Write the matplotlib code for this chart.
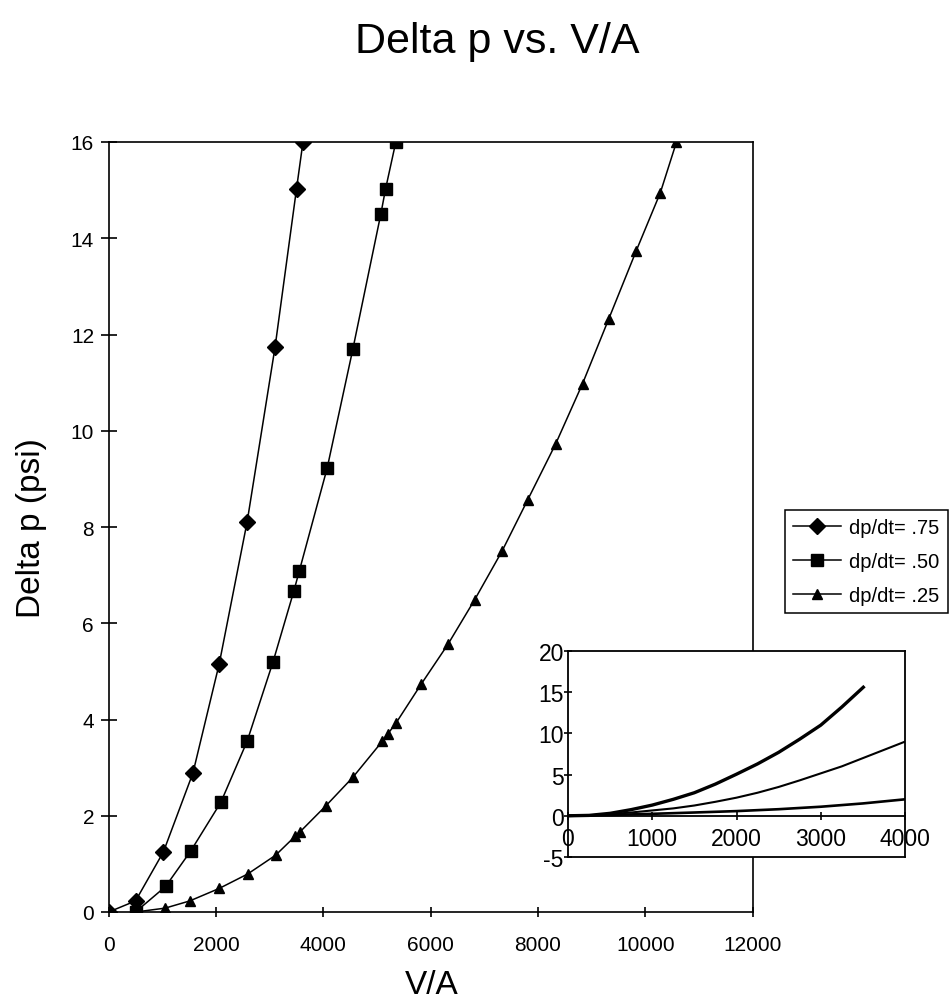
import matplotlib
matplotlib.use("Agg")
import matplotlib.pyplot as plt

# main chart: Delta p (psi) against V/A for three pressure rates
DIAMOND_X = [0, 500, 1020, 1570, 2060, 2580, 3100, 3500, 3620]
DIAMOND_Y = [0, 0.23, 1.25, 2.89, 5.16, 8.11, 11.74, 15.03, 16.0]

SQUARE_X = [500, 1060, 1530, 2090, 2580, 3060, 3450, 3550, 4070, 4550, 5070, 5160, 5350]
SQUARE_Y = [0, 0.53, 1.27, 2.28, 3.55, 5.19, 6.67, 7.08, 9.22, 11.70, 14.50, 15.03, 16.0]

TRIANGLE_X = [500, 1050, 1510, 2060, 2590, 3110, 3480, 3560, 4050, 4550, 5100, 5200,
              5350, 5820, 6320, 6820, 7330, 7810, 8330, 8830, 9320, 9830, 10280, 10580]
TRIANGLE_Y = [0, 0.08, 0.23, 0.49, 0.79, 1.18, 1.58, 1.66, 2.21, 2.80, 3.55, 3.70,
              3.92, 4.73, 5.56, 6.49, 7.50, 8.57, 9.73, 10.98, 12.33, 13.74, 14.95, 16.0]

SERIES_LABELS = ["dp/dt= .75", "dp/dt= .50", "dp/dt= .25"]

X_TICKS = [0, 2000, 4000, 6000, 8000, 10000, 12000]
Y_TICKS = [0, 2, 4, 6, 8, 10, 12, 14, 16]

# inset: smooth curves over 0..4000, read every 250
INSET_UPPER_X = [0, 250, 500, 750, 1000, 1250, 1500, 1750, 2000, 2250, 2500,
                 2750, 3000, 3250, 3505]
INSET_UPPER_Y = [0, 0.05, 0.3, 0.75, 1.3, 2.0, 2.8, 3.85, 5.05, 6.3, 7.7,
                 9.3, 11.0, 13.2, 15.6]
INSET_MIDDLE_X = [0, 250, 500, 750, 1000, 1250, 1500, 1750, 2000, 2250, 2500,
                  2750, 3000, 3250, 3500, 3750, 4000]
INSET_MIDDLE_Y = [0, 0.05, 0.2, 0.4, 0.65, 0.9, 1.25, 1.7, 2.2, 2.8, 3.5,
                  4.3, 5.15, 6.0, 7.0, 8.0, 9.0]
INSET_LOWER_X = [0, 500, 1000, 1500, 2000, 2500, 3000, 3500, 4000]
INSET_LOWER_Y = [0, 0.1, 0.24, 0.4, 0.57, 0.8, 1.1, 1.5, 2.0]

INSET_X_TICKS = [0, 1000, 2000, 3000, 4000]
INSET_Y_TICKS = [-5, 0, 5, 10, 15, 20]


def main():
    plt.rcParams['font.family'] = ['Liberation Sans', 'DejaVu Sans']
    plt.rcParams['axes.unicode_minus'] = False
    W, H = 951, 1003
    fig = plt.figure(figsize=(W / 100, H / 100), dpi=100)

    ax = fig.add_axes([108.7 / W, 1 - 913 / H, 644 / W, 770 / H])
    line_kw = dict(color='black', lw=1.1)
    ax.plot(DIAMOND_X, DIAMOND_Y, marker='D', ms=8, label=SERIES_LABELS[0], **line_kw)
    ax.plot(SQUARE_X, SQUARE_Y, marker='s', ms=8.5, label=SERIES_LABELS[1], **line_kw)
    ax.plot(TRIANGLE_X, TRIANGLE_Y, marker='^', ms=7.5, label=SERIES_LABELS[2], **line_kw)

    ax.set_xlim(0, 12000)
    ax.set_ylim(0, 16)
    ax.set_xticks(X_TICKS)
    ax.set_yticks(Y_TICKS)
    ax.tick_params(axis='y', direction='inout', length=12, width=1.2, pad=4.5, labelsize=15)
    ax.tick_params(axis='x', direction='inout', length=7, width=1.2, pad=13, labelsize=15)
    for spine in ax.spines.values():
        spine.set_linewidth(1.2)

    leg = ax.legend(loc='upper left', bbox_to_anchor=(785 / W, 1 - 511 / H),
                    bbox_transform=fig.transFigure, borderaxespad=0, fontsize=14.5,
                    handlelength=2.4, handletextpad=0.4, labelspacing=0.75,
                    borderpad=0.4, fancybox=False, framealpha=1, edgecolor='black')
    leg.get_frame().set_linewidth(1.1)

    fig.text(497 / W, 1 - 42 / H, "Delta p vs. V/A", ha='center', va='center', fontsize=31)
    fig.text(432 / W, 1 - 985 / H, "V/A", ha='center', va='center', fontsize=24)
    fig.text(32 / W, 1 - 528 / H, "Delta p (psi)", ha='center', va='center',
             rotation=90, fontsize=24)

    # inset
    ins = fig.add_axes([568 / W, 1 - 858 / H, 337 / W, 206 / H])
    ins.set_facecolor('white')
    ins.plot(INSET_UPPER_X, INSET_UPPER_Y, color='black', lw=2.4)
    ins.plot(INSET_MIDDLE_X, INSET_MIDDLE_Y, color='black', lw=1.5)
    ins.plot(INSET_LOWER_X, INSET_LOWER_Y, color='black', lw=1.9)
    ins.set_xlim(0, 4000)
    ins.set_ylim(-5, 20)
    ins.set_yticks(INSET_Y_TICKS)
    ins.tick_params(axis='y', direction='inout', length=6, width=1.2, pad=0, labelsize=16.5)
    ins.tick_params(axis='x', bottom=False, labelbottom=False)
    for spine in ins.spines.values():
        spine.set_linewidth(1.3)

    zero_axis = ins.secondary_xaxis(0.2)
    zero_axis.set_xticks(INSET_X_TICKS)
    zero_axis.tick_params(direction='inout', length=6, width=1.2, pad=5, labelsize=16.5)
    for spine in zero_axis.spines.values():
        spine.set_linewidth(1.3)

    fig.savefig("out.png", dpi=100)


if __name__ == '__main__':
    main()
